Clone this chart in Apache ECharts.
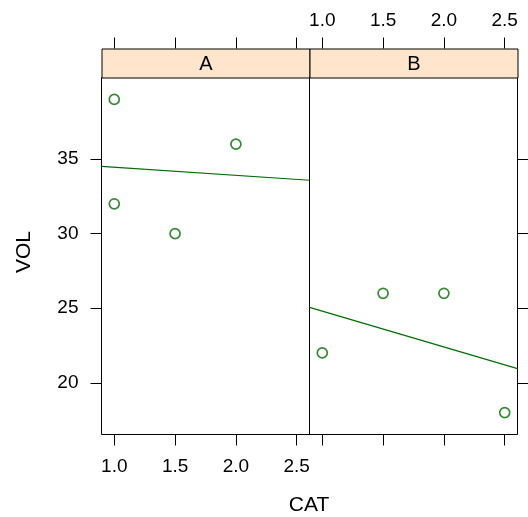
<!DOCTYPE html>
<html>
<head>
<meta charset="utf-8">
<script src="https://cdn.jsdelivr.net/npm/echarts@6/dist/echarts.min.js"></script>
<style>html,body{margin:0;padding:0;background:#fff}#chart{width:528px;height:517px}</style>
</head>
<body>
<div id="chart"></div>
<script>
// data per panel
var panels = ['A', 'B'];
var catA = [1.0, 1.0, 1.5, 2.0];
var volA = [39, 32, 30, 36];
var catB = [1.0, 1.5, 2.0, 2.5];
var volB = [22, 26, 26, 18];
var xTicks = [1.0, 1.5, 2.0, 2.5];
var yTicks = [20, 25, 30, 35];

var green = '#006e00';
var font = 'Liberation Sans, Arial, Helvetica, sans-serif';

// lattice pads the data range by 7% on each side
function lim(arr) {
  var lo = Math.min.apply(null, arr), hi = Math.max.apply(null, arr);
  var d = (hi - lo) * 0.07;
  return [lo - d, hi + d];
}
var xl = lim(catA.concat(catB));
var yl = lim(volA.concat(volB));

// least squares line over the panel width
function fit(xs, ys) {
  var n = xs.length, mx = 0, my = 0, sxx = 0, sxy = 0;
  for (var i = 0; i < n; i++) { mx += xs[i] / n; my += ys[i] / n; }
  for (var j = 0; j < n; j++) { sxx += (xs[j] - mx) * (xs[j] - mx); sxy += (xs[j] - mx) * (ys[j] - my); }
  var b = sxy / sxx, a = my - b * mx;
  return [[xl[0], a + b * xl[0]], [xl[1], a + b * xl[1]]];
}
function pts(xs, ys) { return xs.map(function (x, i) { return [x, ys[i]]; }); }

var dom = echarts.init(document.getElementById('chart'));

var tickStyle = { color: '#000', width: 1 };
var lab = { color: '#000', fontSize: 19, fontFamily: font };

function xAx(grid, pos, showLab, offset, margin) {
  return {
    type: 'value', gridIndex: grid, position: pos, offset: offset || 0,
    min: xl[0], max: xl[1],
    splitLine: { show: false }, axisLine: { show: false },
    axisTick: { show: true, customValues: xTicks, length: 11, lineStyle: tickStyle },
    axisLabel: Object.assign({ show: showLab, customValues: xTicks, margin: margin || 8,
      formatter: function (v) { return v.toFixed(1); } }, lab)
  };
}
function yAx(grid, pos, showLab) {
  return {
    type: 'value', gridIndex: grid, position: pos,
    min: yl[0], max: yl[1],
    splitLine: { show: false }, axisLine: { show: false },
    axisTick: { show: true, customValues: yTicks, length: 11, lineStyle: tickStyle },
    axisLabel: Object.assign({ show: showLab, customValues: yTicks, margin: 23 }, lab)
  };
}

var gl = 101.5, gt = 77.5, gw = 208, gh = 357;
var stripTop = 48.5, stripH = gt - 48.5;

var dot = { color: 'transparent', borderColor: green, borderWidth: 1.7 };

dom.setOption({
  animation: false,
  grid: [
    { left: gl, top: gt, width: gw, height: gh, show: true, borderColor: '#000', borderWidth: 1 },
    { left: gl + gw, top: gt, width: gw, height: gh, show: true, borderColor: '#000', borderWidth: 1 }
  ],
  xAxis: [
    xAx(0, 'bottom', true, 0, 23),
    xAx(0, 'top', false, gt - stripTop),
    xAx(1, 'bottom', false),
    xAx(1, 'top', true, gt - stripTop, 18)
  ],
  yAxis: [
    yAx(0, 'left', true),
    yAx(1, 'right', false)
  ],
  series: [
    { type: 'scatter', xAxisIndex: 0, yAxisIndex: 0, data: pts(catA, volA), symbol: 'circle', symbolSize: 10, itemStyle: dot },
    { type: 'line', xAxisIndex: 0, yAxisIndex: 0, data: fit(catA, volA), symbol: 'none',
      lineStyle: { color: green, width: 1.2 } },
    { type: 'scatter', xAxisIndex: 2, yAxisIndex: 1, data: pts(catB, volB), symbol: 'circle', symbolSize: 10, itemStyle: dot },
    { type: 'line', xAxisIndex: 2, yAxisIndex: 1, data: fit(catB, volB), symbol: 'none',
      lineStyle: { color: green, width: 1.2 } }
  ],
  graphic: panels.map(function (p, i) {
    return {
      type: 'group', left: gl + i * gw, top: stripTop,
      children: [
        { type: 'rect', shape: { x: 0, y: 0, width: gw, height: stripH },
          style: { fill: '#ffe5cc', stroke: '#000', lineWidth: 1 } },
        { type: 'text', x: gw / 2, y: stripH / 2 + 1,
          style: { text: p, fill: '#000', fontSize: 20, fontFamily: font, align: 'center', verticalAlign: 'middle' } }
      ]
    };
  }).concat([
    { type: 'text', x: 309, y: 505, style: { text: 'CAT', fill: '#000', fontSize: 21, fontFamily: font, align: 'center', verticalAlign: 'middle' } },
    { type: 'text', x: 24, y: 252, rotation: Math.PI / 2,
      style: { text: 'VOL', fill: '#000', fontSize: 21, fontFamily: font, align: 'center', verticalAlign: 'middle' } }
  ])
});
</script>
</body>
</html>
